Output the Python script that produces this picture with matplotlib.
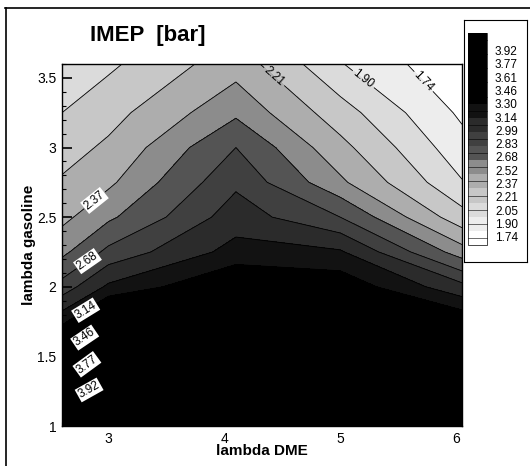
import numpy as np
import matplotlib
matplotlib.use('Agg')
import matplotlib.pyplot as plt
from matplotlib.patches import Rectangle
from matplotlib.lines import Line2D
from matplotlib.ticker import MultipleLocator

plt.rcParams['font.family'] = ['Liberation Sans', 'DejaVu Sans']

# grid (lambda DME across, lambda gasoline up)
lam_dme = [2.6, 3.0, 4.1, 5.0, 6.05]
lam_gas = [1.0, 1.25, 1.5, 1.75, 2.0, 2.25, 2.5, 2.75, 3.0, 3.25, 3.6]
imep = [
    [4.07, 4.05, 4.07, 4.07, 4.03],
    [3.86, 3.97, 3.95, 3.92, 3.85],
    [3.50, 3.85, 3.80, 3.77, 3.58],
    [3.10, 3.46, 3.56, 3.51, 3.27],
    [2.74, 3.02, 3.30, 3.25, 2.88],
    [2.48, 2.72, 3.05, 3.01, 2.44],
    [2.33, 2.49, 2.91, 2.68, 2.11],
    [2.23, 2.34, 2.80, 2.40, 1.91],
    [2.14, 2.24, 2.68, 2.26, 1.80],
    [2.05, 2.15, 2.49, 2.12, 1.71],
    [1.93, 2.02, 2.30, 1.91, 1.60],
]

levels = [1.74, 1.90, 2.05, 2.21, 2.37, 2.52, 2.68, 2.83, 2.99, 3.14,
          3.30, 3.46, 3.61, 3.77, 3.92]
# grey of each legend row (1 = white, 0 = black)
row_grey = [1.00, 0.93, 0.86, 0.78, 0.68, 0.55, 0.33, 0.25, 0.17, 0.07,
            0.0, 0.0, 0.0, 0.0, 0.0]

# labels on the plot and roughly where they sit
label_levels = [1.74, 1.90, 2.21, 2.37, 2.68, 3.14, 3.46, 3.77, 3.92]
label_xy = [(5.65, 3.42), (5.17, 3.46), (4.42, 3.50), (2.88, 2.62),
            (2.84, 2.16), (2.82, 1.81), (2.80, 1.63), (2.80, 1.46),
            (2.80, 1.30)]

X, Y = np.meshgrid(lam_dme, lam_gas)
Z = np.array(imep)

W, H = 530, 466
fig = plt.figure(figsize=(W / 100, H / 100), dpi=100)

ax = fig.add_axes([62 / W, 1 - 426 / H, 400 / W, 362 / H])

band_levels = [0.0] + levels + [10.0]
band_cols = [str(g) for g in row_grey] + ['0.0']
ax.contourf(X, Y, Z, levels=band_levels, colors=band_cols)
plain = [l for l in levels if l not in label_levels]
ax.contour(X, Y, Z, levels=plain, colors='black', linewidths=0.6)
cs = ax.contour(X, Y, Z, levels=label_levels, colors='black', linewidths=0.6)

txts = cs.clabel(manual=label_xy, inline=True, fontsize=8.5, fmt='%.2f',
                 inline_spacing=2)
for t in txts:
    if float(t.get_text()) >= 2.37:
        t.set_bbox(dict(boxstyle='square,pad=0.1', fc='white', ec='none'))

ax.set_xlim(2.6, 6.05)
ax.set_ylim(1.0, 3.6)
ax.set_xticks([3, 4, 5, 6])
ax.set_yticks([1, 1.5, 2, 2.5, 3, 3.5])
ax.set_yticklabels(['1', '1.5', '2', '2.5', '3', '3.5'])
ax.xaxis.set_minor_locator(MultipleLocator(0.2))
ax.yaxis.set_minor_locator(MultipleLocator(0.1))
ax.tick_params(which='both', direction='in', top=False, right=False,
               labelsize=10, pad=4)
ax.tick_params(which='major', length=7, width=1.2)
ax.tick_params(which='minor', length=3, width=0.8)
for s in ax.spines.values():
    s.set_linewidth(1.0)

ax.set_xlabel('lambda DME', fontsize=11, fontweight='bold', labelpad=-1)
ax.set_ylabel('lambda gasoline', fontsize=11, fontweight='bold', labelpad=1)

fig.text(90 / W, 1 - 36 / H, 'IMEP  [bar]', fontsize=16, fontweight='bold',
         ha='left', va='center')

# legend box on the right
lax = fig.add_axes([464 / W, 1 - 262 / H, 63 / W, 242 / H])
lax.set_xlim(464, 527)
lax.set_ylim(262, 20)
lax.set_xticks([])
lax.set_yticks([])
for s in lax.spines.values():
    s.set_linewidth(0.8)
n = len(levels)
row_h = (245 - 33) / n
for i, lev in enumerate(levels[::-1]):
    g = row_grey[::-1][i]
    y0 = 33 + i * row_h
    lax.add_patch(Rectangle((468, y0), 19, row_h, fc=str(g), ec='none'))
    lax.plot([468, 487], [y0 + row_h / 2] * 2, color='black', lw=0.4)
    lax.text(495, 52 + i * 13.3, f'{lev:.2f}', fontsize=8.5, va='center',
             ha='left')
lax.add_patch(Rectangle((468, 33), 19, 212, fc='none', ec='black', lw=0.5))

# scanned page frame
fig.add_artist(Line2D([5 / W, 1], [1 - 8 / H, 1 - 8 / H], color='black', lw=1.2))
fig.add_artist(Line2D([6 / W, 6 / W], [0, 1 - 8 / H], color='black', lw=1.2))

fig.savefig('out.png', dpi=100)
